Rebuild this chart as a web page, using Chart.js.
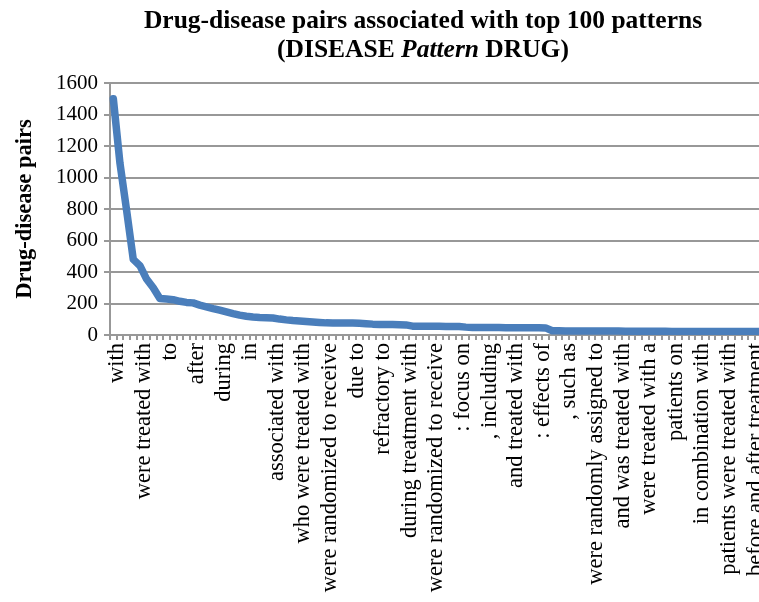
<!DOCTYPE html>
<html>
<head>
<meta charset="utf-8">
<script src="https://cdn.jsdelivr.net/npm/chart.js@4.4.1/dist/chart.umd.min.js"></script>
<style>
  html, body { margin: 0; padding: 0; background: #ffffff; overflow: hidden; }
  #wrap { position: relative; width: 850px; height: 602px; }
</style>
</head>
<body>
<div id="wrap"><canvas id="chart" width="850" height="602"></canvas></div>
<script>
// Heading text (second line mixes bold and bold-italic runs)
const titleLine1 = 'Drug-disease pairs associated with top 100 patterns';
const titleLine2 = [
  ['(DISEASE ', 'bold'],
  ['Pattern', 'italic bold'],
  [' DRUG)', 'bold']
];
const yAxisTitle = 'Drug-disease pairs';

// Pattern names printed under the axis, one for every fourth ranked pattern
const patternLabels = [
  'with', 'were treated with', 'to', 'after', 'during', 'in',
  'associated with', 'who were treated with', 'were randomized to receive',
  'due to', 'refractory to', 'during treatment with',
  'were randomized to receive', ': focus on', ', including', 'and treated with',
  ': effects of', ', such as', 'were randomly assigned to', 'and was treated with',
  'were treated with a', 'patients on', 'in combination with',
  'patients were treated with', 'before and after treatment'
];
const labelEvery = 4;

// Number of drug-disease pairs for each of the top 100 patterns (ranked)
const pairCounts = [
  1500, 1090, 790, 480, 440, 355, 300, 232, 228, 224,
  214, 207, 204, 190, 179, 168, 158, 147, 136, 126,
  119, 114, 111, 110, 108, 101, 96, 92, 89, 86,
  83, 80, 77, 76, 76, 76, 76, 75, 72, 69,
  67, 66, 66, 65, 64, 56, 55, 55, 55, 55,
  54, 54, 54, 50, 47, 47, 47, 47, 47, 46,
  46, 46, 46, 46, 46, 45, 27, 27, 26, 26,
  26, 25, 25, 25, 25, 25, 25, 24, 24, 24,
  24, 24, 24, 24, 23, 23, 23, 23, 23, 23,
  23, 23, 22, 22, 22, 22, 22, 22, 22, 22
];

// Value axis range
const yMin = 0;
const yMax = 1600;
const yStep = 200;

const categories = pairCounts.map((_, i) =>
  i % labelEvery === 0 ? patternLabels[i / labelEvery] : '');

const serif = "'Liberation Serif', 'Times New Roman', serif";
const axisGray = '#989898';

const headingPlugin = {
  id: 'heading',
  afterDraw(chart) {
    const ctx = chart.ctx;
    const cx = chart.width / 2 - 2;
    const size = 25.5;
    ctx.save();
    ctx.fillStyle = '#000000';
    ctx.textAlign = 'left';
    ctx.textBaseline = 'alphabetic';
    ctx.font = `bold ${size}px ${serif}`;
    const w1 = ctx.measureText(titleLine1).width;
    ctx.fillText(titleLine1, cx - w1 / 2, 28);
    let total = 0;
    const runs = titleLine2.map(([text, style]) => {
      ctx.font = `${style} ${size}px ${serif}`;
      const w = ctx.measureText(text).width;
      total += w;
      return { text, style, w };
    });
    let x = cx - total / 2;
    runs.forEach(r => {
      ctx.font = `${r.style} ${size}px ${serif}`;
      ctx.fillText(r.text, x, 57);
      x += r.w;
    });
    ctx.restore();
  }
};

new Chart(document.getElementById('chart'), {
  type: 'line',
  data: {
    labels: categories,
    datasets: [{
      data: pairCounts,
      borderColor: '#4a7ebb',
      borderWidth: 7.5,
      pointRadius: 0,
      pointHoverRadius: 0,
      tension: 0,
      borderJoinStyle: 'round',
      borderCapStyle: 'round',
      fill: false
    }]
  },
  options: {
    responsive: false,
    animation: false,
    devicePixelRatio: 1,
    layout: { padding: { top: 83, right: 75, bottom: 0, left: 0 } },
    plugins: {
      legend: { display: false },
      tooltip: { enabled: false },
      title: { display: false }
    },
    scales: {
      x: {
        offset: true,
        grid: {
          offset: true,
          drawOnChartArea: false,
          drawTicks: true,
          tickLength: 5,
          color: axisGray,
          lineWidth: 2
        },
        border: { color: axisGray, width: 2 },
        ticks: {
          autoSkip: false,
          minRotation: 90,
          maxRotation: 90,
          padding: 3,
          labelOffset: 4,
          color: '#000000',
          font: { family: serif, size: 22.5 }
        },
        afterFit(scale) { scale.height = 267; }
      },
      y: {
        min: yMin,
        max: yMax,
        ticks: {
          stepSize: yStep,
          padding: 6,
          color: '#000000',
          font: { family: serif, size: 21 },
          callback: v => String(v)
        },
        grid: {
          color: axisGray,
          lineWidth: 2,
          tickLength: 6
        },
        border: { color: axisGray, width: 2 },
        title: {
          display: true,
          text: yAxisTitle,
          color: '#000000',
          font: { family: serif, size: 22.5, weight: 'bold' },
          padding: { top: 12, bottom: 0 }
        },
        afterFit(scale) { scale.width = 110; }
      }
    }
  },
  plugins: [headingPlugin]
});
</script>
</body>
</html>
